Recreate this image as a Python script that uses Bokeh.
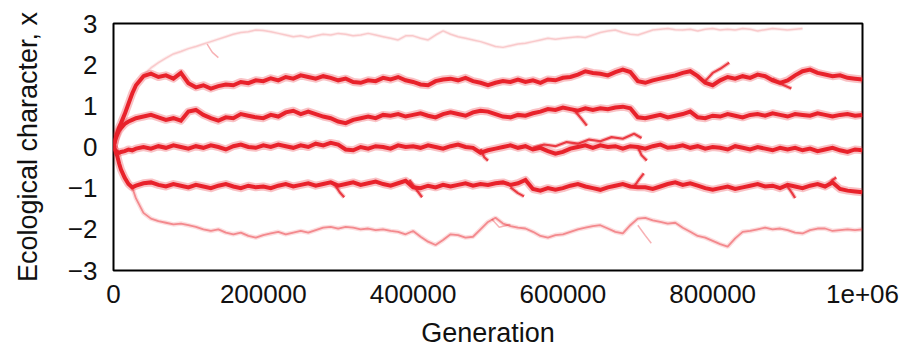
from bokeh.plotting import figure
from bokeh.models import FixedTicker, Range1d
from bokeh.embed import file_html
from bokeh.resources import INLINE

# ---------------- data ----------------
GEN_EARLY = [0, 2500, 5000, 7500, 10000, 15000, 20000, 25000, 30000,
             40000, 50000, 60000, 70000, 80000, 90000]
GEN_LATE = list(range(100000, 1000001, 10000))   # 100k ... 1e6 sampling grid

# branch near x = 1.7
A_EARLY = [0, 0.2, 0.35, 0.48, 0.58, 0.8, 1.05, 1.3, 1.5, 1.72, 1.78, 1.7, 1.74, 1.66, 1.8]
A_LATE = [1.55, 1.45, 1.5, 1.42, 1.48, 1.52, 1.5, 1.58, 1.55, 1.62,
          1.6, 1.67, 1.62, 1.7, 1.66, 1.74, 1.7, 1.66, 1.72, 1.68,
          1.62, 1.66, 1.58, 1.56, 1.62, 1.6, 1.68, 1.64, 1.7, 1.62,
          1.58, 1.52, 1.5, 1.6, 1.64, 1.66, 1.62, 1.68, 1.6, 1.56,
          1.5, 1.56, 1.6, 1.58, 1.64, 1.58, 1.62, 1.56, 1.64, 1.62,
          1.68, 1.7, 1.76, 1.84, 1.8, 1.78, 1.74, 1.82, 1.88, 1.82,
          1.6, 1.56, 1.62, 1.66, 1.7, 1.74, 1.8, 1.84, 1.72, 1.56,
          1.5, 1.62, 1.7, 1.66, 1.72, 1.68, 1.76, 1.72, 1.62, 1.56,
          1.62, 1.74, 1.84, 1.88, 1.8, 1.76, 1.72, 1.74, 1.68, 1.66,
          1.64]

# branch near x = 0.75
B_EARLY = [0, 0.18, 0.3, 0.4, 0.46, 0.56, 0.62, 0.66, 0.7, 0.74, 0.78, 0.72, 0.66, 0.7, 0.64]
B_LATE = [0.86, 0.9, 0.78, 0.7, 0.64, 0.72, 0.7, 0.8, 0.76, 0.72,
          0.7, 0.78, 0.74, 0.84, 0.88, 0.8, 0.86, 0.8, 0.74, 0.7,
          0.62, 0.58, 0.66, 0.7, 0.74, 0.7, 0.78, 0.76, 0.8, 0.74,
          0.78, 0.82, 0.76, 0.72, 0.8, 0.84, 0.8, 0.76, 0.84, 0.88,
          0.86, 0.8, 0.74, 0.72, 0.78, 0.76, 0.82, 0.86, 0.92, 0.9,
          0.96, 0.92, 0.88, 0.94, 0.9, 0.94, 0.92, 0.96, 0.98, 0.94,
          0.72, 0.7, 0.74, 0.78, 0.72, 0.76, 0.8, 0.86, 0.72, 0.7,
          0.76, 0.74, 0.8, 0.76, 0.72, 0.78, 0.8, 0.76, 0.82, 0.78,
          0.74, 0.8, 0.78, 0.76, 0.82, 0.78, 0.74, 0.78, 0.8, 0.76,
          0.78]

# branch near x = 0
C_EARLY = [0, -0.08, -0.12, -0.14, -0.12, -0.1, -0.06, -0.08, -0.04, 0.0, -0.04, 0.02, -0.02, 0.04, 0.0]
C_LATE = [-0.04, 0.02, -0.02, 0.04, 0.0, -0.06, 0.02, 0.06, 0.0, -0.02,
          0.04, 0.0, 0.06, 0.02, -0.02, 0.04, 0.0, 0.08, 0.04, 0.1,
          0.06, -0.06, -0.08, 0.0, -0.04, 0.02, 0.0, -0.04, 0.04, 0.0,
          0.02, -0.02, 0.04, 0.0, -0.04, 0.02, 0.06, 0.0, -0.02, -0.14,
          -0.08, -0.04, 0.0, 0.04, -0.02, 0.02, -0.06, -0.02, -0.1, -0.16,
          -0.12, -0.04, 0.0, 0.04, -0.02, 0.04, 0.0, 0.02, -0.04, 0.02,
          0.0, -0.04, 0.02, 0.06, -0.02, 0.0, 0.04, -0.02, 0.02, -0.04,
          0.0, -0.02, -0.06, 0.02, -0.02, -0.06, 0.0, -0.04, -0.08, -0.02,
          -0.06, -0.02, -0.08, -0.04, -0.1, -0.06, -0.02, -0.08, -0.12, -0.06,
          -0.08]

# branch near x = -1
D_EARLY = [0, -0.1, -0.22, -0.4, -0.55, -0.75, -0.9, -0.98, -0.94, -0.88, -0.86, -0.92, -0.96, -0.9, -0.94]
D_LATE = [-0.98, -0.92, -0.96, -1.0, -0.94, -0.9, -0.96, -1.0, -0.94, -0.98,
          -0.96, -1.0, -0.94, -0.9, -0.96, -0.92, -0.88, -0.94, -0.9, -0.86,
          -0.94, -0.9, -0.86, -0.92, -0.88, -0.84, -0.9, -0.94, -0.88, -0.82,
          -0.98, -1.0, -0.94, -0.98, -0.92, -0.96, -0.92, -0.88, -0.94, -0.9,
          -0.92, -0.88, -0.86, -0.92, -0.88, -0.8, -1.02, -1.06, -1.0, -1.04,
          -1.0, -0.94, -0.9, -0.96, -1.0, -1.04, -0.98, -0.94, -0.9, -0.96,
          -0.98, -0.98, -1.02, -0.96, -0.9, -0.86, -0.92, -0.88, -0.94, -1.0,
          -1.04, -1.0, -0.96, -1.02, -0.98, -0.94, -0.9, -0.96, -0.94, -1.0,
          -0.92, -0.96, -1.0, -0.94, -0.9, -0.96, -0.86, -1.02, -1.06, -1.08,
          -1.1]

# faint branch near x = -2
E_EARLY_X = [25000, 30000, 40000, 50000, 60000, 70000, 80000, 90000]
E_EARLY = [-0.98, -1.25, -1.6, -1.74, -1.8, -1.84, -1.88, -1.86]
E_LATE = [-1.9, -1.94, -2.0, -2.04, -2.0, -2.08, -2.12, -2.08, -2.16, -2.2,
          -2.14, -2.1, -2.06, -2.12, -2.08, -2.04, -2.08, -2.02, -1.96, -1.94,
          -1.98, -1.94, -1.96, -2.0, -1.98, -2.02, -2.0, -2.04, -2.06, -2.12,
          -2.04, -2.18, -2.3, -2.38, -2.26, -2.12, -2.14, -2.2, -2.18, -2.0,
          -1.82, -1.72, -1.86, -1.92, -1.96, -1.98, -2.06, -2.16, -2.2, -2.14,
          -2.12, -2.06, -2.0, -1.96, -1.92, -1.9, -1.98, -2.06, -2.1, -1.9,
          -1.74, -1.72, -1.78, -1.82, -1.86, -1.84, -1.96, -2.06, -2.16, -2.2,
          -2.28, -2.36, -2.42, -2.22, -2.06, -2.04, -2.0, -1.96, -2.0, -1.98,
          -2.02, -2.08, -2.1, -2.02, -1.98, -1.98, -2.04, -2.02, -2.0, -2.02,
          -2.0]

# very faint branch near x = 2.7
F_EARLY_X = [40000, 50000, 60000, 70000, 80000, 90000]
F_EARLY = [1.76, 1.92, 2.05, 2.16, 2.26, 2.32]
F_LATE = [2.39, 2.44, 2.5, 2.56, 2.62, 2.68, 2.74, 2.78, 2.8, 2.84,
          2.83, 2.8, 2.76, 2.72, 2.68, 2.7, 2.66, 2.7, 2.74, 2.72,
          2.76, 2.74, 2.7, 2.72, 2.76, 2.72, 2.68, 2.64, 2.6, 2.7,
          2.7, 2.64, 2.6, 2.72, 2.82, 2.74, 2.68, 2.64, 2.6, 2.56,
          2.5, 2.44, 2.42, 2.46, 2.5, 2.52, 2.56, 2.6, 2.64, 2.62,
          2.64, 2.66, 2.68, 2.66, 2.72, 2.78, 2.82, 2.84, 2.78, 2.74,
          2.72, 2.78, 2.84, 2.86, 2.88, 2.85, 2.84, 2.86, 2.82, 2.86,
          2.88, 2.84, 2.86, 2.84, 2.88, 2.86, 2.82, 2.85, 2.88, 2.86,
          2.84, 2.86, 2.88]

# short side branches: (x list, y list, faint?)
SPUR_X = [[125000, 132000, 140000], [790000, 800000, 810000, 822000], [880000, 895000, 905000],
          [615000, 625000, 632000],
          [560000, 575000, 590000, 605000, 620000, 635000, 650000, 665000, 680000, 695000, 705000],
          [490000, 495000, 500000], [700000, 705000, 712000],
          [295000, 302000, 308000], [395000, 405000, 412000], [530000, 540000, 548000],
          [695000, 702000, 708000], [900000, 906000, 910000], [955000, 960000, 965000],
          [700000, 710000, 718000], [505000, 515000, 530000]]
SPUR_Y = [[2.5, 2.3, 2.17], [1.6, 1.8, 1.9, 2.05], [1.66, 1.5, 1.42],
          [0.9, 0.68, 0.52],
          [-0.02, 0.06, 0.02, 0.12, 0.08, 0.18, 0.14, 0.24, 0.2, 0.32, 0.22],
          [-0.05, -0.25, -0.33], [0.0, -0.2, -0.33],
          [-0.9, -1.1, -1.22], [-0.8, -1.05, -1.22], [-0.98, -1.12, -1.2],
          [-0.96, -0.78, -0.64], [-0.96, -1.12, -1.24], [-0.92, -0.8, -0.74],
          [-1.9, -2.15, -2.34], [-1.75, -1.95, -1.88]]
SPUR_FAINT = [True, False, False, False, False, False, False, False, False, False,
              False, False, False, True, True]

X_TICKS = [0, 200000, 400000, 600000, 800000, 1000000]
X_TICK_LABELS = ["0", "200000", "400000", "600000", "800000", "1e+06"]
Y_TICKS = [-3, -2, -1, 0, 1, 2, 3]

RED = "#e8222b"
FONT = "Liberation Sans"

# ---------------- figure ----------------
p = figure(width=923, height=355, output_backend="svg", toolbar_location=None,
           x_range=Range1d(0, 1000000), y_range=Range1d(-3, 3),
           min_border_left=113, min_border_right=61, min_border_top=23, min_border_bottom=85)
p.background_fill_color = "white"
p.border_fill_color = "white"
p.outline_line_color = "black"
p.outline_line_width = 2
p.grid.visible = False

def series(early_x, early_y, late_y):
    return list(early_x) + GEN_LATE[:len(late_y)], list(early_y) + list(late_y)

main = [(GEN_EARLY, A_EARLY, A_LATE), (GEN_EARLY, B_EARLY, B_LATE),
        (GEN_EARLY, C_EARLY, C_LATE), (GEN_EARLY, D_EARLY, D_LATE)]
# fuzzy halo first, then the core
for ex, ey, ly in main:
    xs, ys = series(ex, ey, ly)
    p.line(xs, ys, line_color=RED, line_width=8, line_alpha=0.28, line_join="round")
for ex, ey, ly in main:
    xs, ys = series(ex, ey, ly)
    p.line(xs, ys, line_color=RED, line_width=4, line_join="miter")

xs, ys = series(E_EARLY_X, E_EARLY, E_LATE)
p.line(xs, ys, line_color=RED, line_width=4.5, line_alpha=0.15)
p.line(xs, ys, line_color=RED, line_width=1.8, line_alpha=0.45)
xs, ys = series(F_EARLY_X, F_EARLY, F_LATE)
p.line(xs, ys, line_color=RED, line_width=3.5, line_alpha=0.08)
p.line(xs, ys, line_color=RED, line_width=1.5, line_alpha=0.18)

for sx, sy, faint in zip(SPUR_X, SPUR_Y, SPUR_FAINT):
    if faint:
        p.line(sx, sy, line_color=RED, line_width=1.5, line_alpha=0.35)
    else:
        p.line(sx, sy, line_color=RED, line_width=4.5, line_alpha=0.25)
        p.line(sx, sy, line_color=RED, line_width=2.2, line_alpha=0.85)

for ax in (p.xaxis[0], p.yaxis[0]):
    ax.axis_line_color = None
    ax.major_tick_line_color = None
    ax.minor_tick_line_color = None
    ax.major_tick_out = 0
    ax.major_tick_in = 0
    ax.minor_tick_out = 0
    ax.major_label_text_font = FONT
    ax.major_label_text_font_size = "26px"
    ax.major_label_text_color = "#111111"
    ax.axis_label_text_font = FONT
    ax.axis_label_text_font_size = "27px"
    ax.axis_label_text_font_style = "normal"
    ax.axis_label_text_color = "#111111"

p.xaxis.ticker = FixedTicker(ticks=X_TICKS)
p.xaxis.major_label_overrides = dict(zip(X_TICKS, X_TICK_LABELS))
p.xaxis.axis_label = "Generation"
p.xaxis.major_label_standoff = 14
p.xaxis.axis_label_standoff = 12

p.yaxis.ticker = FixedTicker(ticks=Y_TICKS)
p.yaxis.axis_label = "Ecological character, x"
p.yaxis.major_label_standoff = 16
p.yaxis.axis_label_standoff = 22

open("out.html", "w").write(file_html(p, INLINE))
